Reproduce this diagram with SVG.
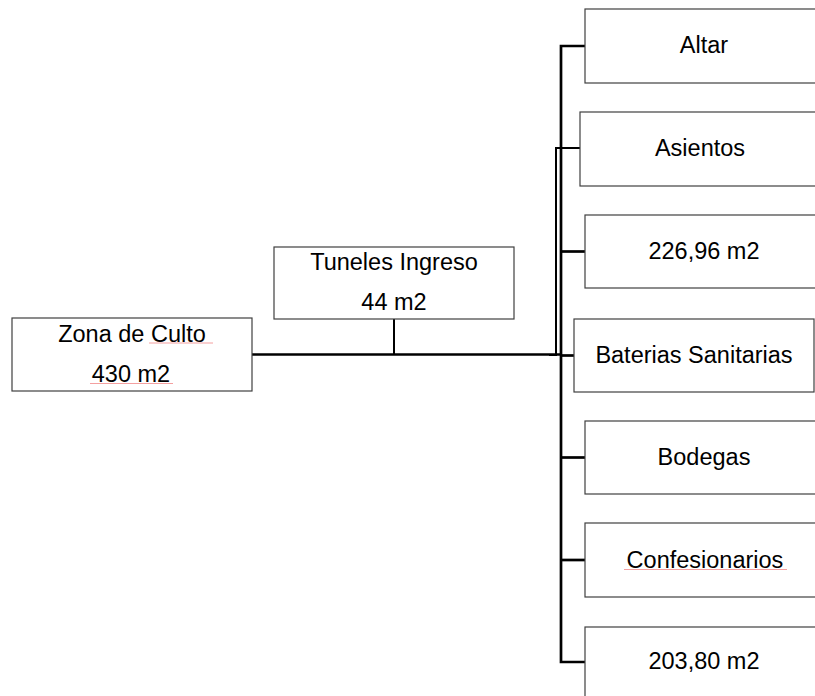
<svg xmlns="http://www.w3.org/2000/svg" width="815" height="696" viewBox="0 0 815 696">
<style>
.box{fill:#fff;stroke:#404040;stroke-width:1.2}
.t{font-family:"Liberation Sans",Arial,sans-serif;font-size:23.5px;fill:#000;text-anchor:middle}
.c{stroke:#000;fill:none;stroke-width:2.7}
.c2{stroke:#000;fill:none;stroke-width:2}
.sq{stroke:#f4a0a0;stroke-width:1;fill:none}
</style>
<rect width="815" height="696" fill="#fff"/>
<g id="connectors">
<line class="c" x1="252" y1="354.5" x2="561" y2="354.5"/>
<line class="c2" x1="394" y1="319" x2="394" y2="354"/>
<polyline class="c" points="585,46 561,46 561,662 585,662"/>
<polyline class="c2" points="580,148 556,148 556,355 549,355"/>
<line class="c" x1="561" y1="251.5" x2="585" y2="251.5"/>
<line class="c" x1="561" y1="355.5" x2="574" y2="355.5"/>
<line class="c" x1="561" y1="457.5" x2="585" y2="457.5"/>
<line class="c" x1="561" y1="560" x2="585" y2="560"/>
</g>
<g id="zona">
<rect class="box" x="12" y="318" width="240" height="73"/>
<text class="t" x="132" y="342">Zona de Culto </text>
<text class="t" x="131" y="382">430 m2</text>
<line class="sq" x1="149" y1="343" x2="213" y2="343"/>
<line class="sq" x1="90" y1="383.5" x2="173" y2="383.5"/>
</g>
<g id="tuneles">
<rect class="box" x="274" y="247" width="240" height="72"/>
<text class="t" x="394" y="270">Tuneles Ingreso</text>
<text class="t" x="394" y="310">44 m2</text>
</g>
<g id="altar">
<rect class="box" x="585" y="9" width="240" height="74"/>
<text class="t" x="704" y="53">Altar</text>
</g>
<g id="asientos">
<rect class="box" x="580" y="112" width="240" height="74"/>
<text class="t" x="700" y="156">Asientos</text>
</g>
<g id="area1">
<rect class="box" x="585" y="215" width="240" height="73"/>
<text class="t" x="704" y="259">226,96 m2</text>
</g>
<g id="baterias">
<rect class="box" x="574" y="319" width="240" height="73"/>
<text class="t" x="694" y="363">Baterias Sanitarias</text>
</g>
<g id="bodegas">
<rect class="box" x="585" y="421" width="240" height="73"/>
<text class="t" x="704" y="465">Bodegas</text>
</g>
<g id="confesionarios">
<rect class="box" x="585" y="523" width="240" height="74"/>
<text class="t" x="705" y="568">Confesionarios</text>
<line class="sq" x1="624" y1="569.5" x2="787" y2="569.5"/>
</g>
<g id="area2">
<rect class="box" x="585" y="627" width="240" height="74"/>
<text class="t" x="704" y="669">203,80 m2</text>
</g>
</svg>
